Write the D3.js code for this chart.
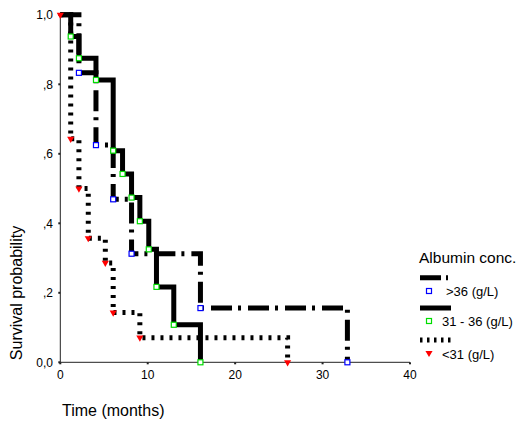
<!DOCTYPE html>
<html>
<head>
<meta charset="utf-8">
<script src="https://cdn.jsdelivr.net/npm/d3@7/dist/d3.min.js"></script>
<style>
  html, body { margin: 0; padding: 0; background: #fff; }
  svg { display: block; font-family: "Liberation Sans", Arial, sans-serif; }
</style>
</head>
<body>
<svg id="chart" width="518" height="427"></svg>
<script>
// Kaplan-Meier survival by albumin concentration group
const groupLabels = [">36 (g/L)", "31 - 36 (g/L)", "<31 (g/L)"];

// >36 g/L
const highTimes = [2.13, 4.08, 6.05, 8.15, 16.03, 32.84];
const highSurv  = [0.833, 0.625, 0.469, 0.3125, 0.156, 0];
// 31 - 36 g/L
const midTimes  = [1.19, 2.13, 4.08, 6.05, 7.12, 8.15, 9.1, 10.12, 11.0, 12.98, 16.03];
const midSurv   = [0.9375, 0.875, 0.8125, 0.609, 0.542, 0.474, 0.406, 0.325, 0.217, 0.108, 0];
// <31 g/L
const lowTimes  = [0, 1.19, 2.13, 3.2, 5.15, 6.05, 9.1, 26.0];
const lowSurv   = [1, 0.643, 0.5, 0.357, 0.286, 0.143, 0.071, 0];

const xTicks = [0, 10, 20, 30, 40];
const yTicks = [0, 0.2, 0.4, 0.6, 0.8, 1.0];
const yTickLabels = ["0,0", ",2", ",4", ",6", ",8", "1,0"];

const svg = d3.select("#chart");

const x = d3.scaleLinear().domain([0, 40]).range([60.3, 410]);
const y = d3.scaleLinear().domain([0, 1]).range([362.3, 14.8]);

// axes
const axisG = svg.append("g");
axisG.append("line")
  .attr("x1", x(0)).attr("x2", x(40))
  .attr("y1", y(0)).attr("y2", y(0))
  .attr("stroke", "#222").attr("stroke-width", 1);
axisG.append("line")
  .attr("x1", x(0)).attr("x2", x(0))
  .attr("y1", y(0)).attr("y2", y(1))
  .attr("stroke", "#222").attr("stroke-width", 1);

axisG.selectAll(".xt").data(xTicks).enter().append("rect")
  .attr("x", d => x(d) - 1).attr("y", y(0)).attr("width", 2).attr("height", 2)
  .attr("fill", "#222");
axisG.selectAll(".xl").data(xTicks).enter().append("text")
  .attr("x", d => x(d)).attr("y", 379)
  .attr("text-anchor", "middle").attr("font-size", 12).attr("fill", "#000")
  .text(d => d);

axisG.selectAll(".yt").data(yTicks).enter().append("rect")
  .attr("x", x(0) - 2).attr("y", d => y(d) - 1).attr("width", 2).attr("height", 2)
  .attr("fill", "#222");
axisG.selectAll(".yl").data(yTicks).enter().append("text")
  .attr("x", 53).attr("y", d => y(d)).attr("dy", "0.36em")
  .attr("text-anchor", "end").attr("font-size", 12).attr("fill", "#000")
  .text((d, i) => yTickLabels[i]);

svg.append("text")
  .attr("transform", "translate(22,293) rotate(-90)")
  .attr("text-anchor", "middle").attr("font-size", 16).attr("fill", "#000")
  .text("Survival probability");

svg.append("text")
  .attr("x", 62).attr("y", 416)
  .attr("font-size", 16).attr("fill", "#000")
  .text("Time (months)");

// survival curves
const styles = [
  { dash: "21,6,3,7", width: 5 },
  { dash: null, width: 5 },
  { dash: "3,6", width: 5 }
];
const markerColors = ["#0000ff", "#00dd00", "#ff0000"];

const series = [
  { times: highTimes, surv: highSurv },
  { times: midTimes, surv: midSurv },
  { times: lowTimes, surv: lowSurv }
];

const stepLine = d3.line()
  .x(d => x(d[0])).y(d => y(d[1]))
  .curve(d3.curveStepAfter);

series.forEach((s, i) => {
  const pts = [[0, 1]].concat(s.times.map((t, j) => [t, s.surv[j]]));
  svg.append("path")
    .attr("d", stepLine(pts))
    .attr("fill", "none")
    .attr("stroke", "#000")
    .attr("stroke-width", styles[i].width)
    .attr("stroke-dasharray", styles[i].dash)
    .attr("stroke-linejoin", "miter")
    .attr("stroke-linecap", "butt");
});

// event markers
const tri = d3.symbol().type(d3.symbolTriangle).size(22);
series.forEach((s, i) => {
  const g = svg.append("g");
  s.times.forEach((t, j) => {
    if (i < 2) {
      g.append("rect")
        .attr("x", x(t) - 2.5).attr("y", y(s.surv[j]) - 2.5)
        .attr("width", 5).attr("height", 5)
        .attr("fill", "#fff").attr("stroke", markerColors[i]).attr("stroke-width", 1.2);
    } else {
      g.append("path")
        .attr("d", tri())
        .attr("transform", `translate(${x(t)},${y(s.surv[j])}) rotate(180)`)
        .attr("fill", markerColors[i]);
    }
  });
});

// legend
const lg = svg.append("g");
lg.append("text").attr("x", 419).attr("y", 263)
  .attr("font-size", 15.5).attr("fill", "#000").text("Albumin conc.");

const legendRows = [
  { lineY: 277.7, markY: 291, textX: 446, textY: 296 },
  { lineY: 308, markY: 321, textX: 442, textY: 326 },
  { lineY: 340, markY: 353, textX: 442, textY: 359 }
];
const legendDash = ["21,5,2,10", null, "2.5,4.5"];

legendRows.forEach((r, i) => {
  lg.append("line")
    .attr("x1", 420).attr("x2", 451).attr("y1", r.lineY).attr("y2", r.lineY)
    .attr("stroke", "#000").attr("stroke-width", 5)
    .attr("stroke-dasharray", legendDash[i]);
  if (i < 2) {
    lg.append("rect")
      .attr("x", 426.5).attr("y", r.markY - 2.5).attr("width", 5).attr("height", 5)
      .attr("fill", "#fff").attr("stroke", markerColors[i]).attr("stroke-width", 1.2);
  } else {
    lg.append("path").attr("d", tri())
      .attr("transform", `translate(429,${r.markY}) rotate(180)`)
      .attr("fill", markerColors[i]);
  }
  lg.append("text").attr("x", r.textX).attr("y", r.textY)
    .attr("font-size", 13).attr("fill", "#000").text(groupLabels[i]);
});
</script>
</body>
</html>
